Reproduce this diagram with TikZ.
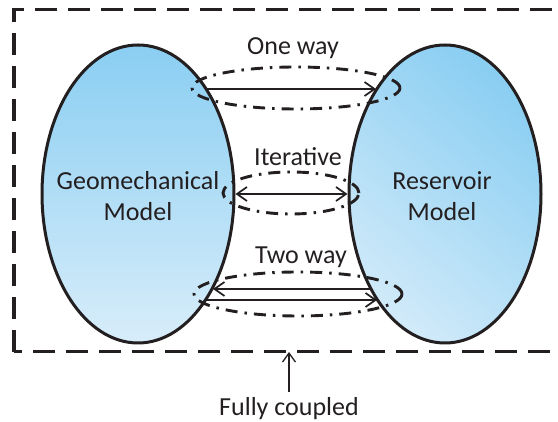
\documentclass[tikz,border=0pt]{standalone}
\usepackage{fontspec}
\setmainfont{Carlito}
\usetikzlibrary{shapes.geometric,arrows.meta}
\definecolor{skydark}{RGB}{138,206,242}
\definecolor{skylight}{RGB}{216,237,250}
\definecolor{inkgray}{RGB}{35,31,32}
\begin{document}
\begin{tikzpicture}[x=10pt, y=10pt,
    model/.style={ellipse, draw=inkgray, line width=3pt, inner sep=0pt,
        minimum width=192pt, minimum height=298pt},
    lbl/.style={text=inkgray, align=center, font=\fontsize{26}{31}\selectfont},
    loop/.style={draw=inkgray, line width=2.9pt,
        dash pattern=on 12pt off 7pt on 2.5pt off 7pt},
    link/.style={draw=inkgray, line width=1.7pt,
        arrows={-Straight Barb[length=10pt,width=14pt]}}]
    \clip (0,0) rectangle (55.8,42.2);

    % frame of the whole coupled system
    \draw[inkgray, line width=3pt, dash pattern=on 22pt off 11pt] (1.4,7.0) rectangle (60,41.2);

    % the two models
    \node[model, top color=skydark, bottom color=skylight] (geo) at (13.8,22.8) {};
    \node[model, top color=skydark, bottom color=skylight!90!skydark, shading angle=-40] (res) at (44.5,22.8) {};
    \node[lbl] (geotxt) at (13.8,22.6) {Geomechanical\\Model};
    \node[lbl] (restxt) at (44.2,22.6) {Reservoir\\Model};

    % one way
    \node[lbl] (oneway) at (29.3,37.4) {One way};
    \draw[link] ([shift={(6.9,10.5)}]geo.center) -- ([shift={(-6.9,10.5)}]res.center);
    \draw[loop] (29.6,33.4) ellipse (10.4 and 2.1);

    % iterative
    \node[lbl] (iter) at (29.8,26.5) {Iterative};
    \draw[link, arrows={Straight Barb[length=10pt,width=14pt]-Straight Barb[length=10pt,width=14pt]}] (geo.east) -- (res.west);
    \draw[loop] (29.1,22.9) ellipse (6.8 and 2.1);

    % two way
    \node[lbl] (twoway) at (30.1,16.5) {Two way};
    \draw[link] ([shift={(-7.5,-9.5)}]res.center) -- ([shift={(7.5,-9.5)}]geo.center);
    \draw[link] ([shift={(6.8,-10.6)}]geo.center) -- ([shift={(-6.8,-10.6)}]res.center);
    \draw[loop] (29.8,12.8) ellipse (10.4 and 2.2);

    % label of the frame
    \node[lbl] (full) at (28.9,1.3) {Fully coupled};
    \coordinate (edge) at (28.9,7.0);
    \draw[inkgray, line width=1.3pt, arrows={-Straight Barb[length=9pt,width=13pt]}, shorten <=2pt] (full.north) -- (edge);
\end{tikzpicture}
\end{document}
